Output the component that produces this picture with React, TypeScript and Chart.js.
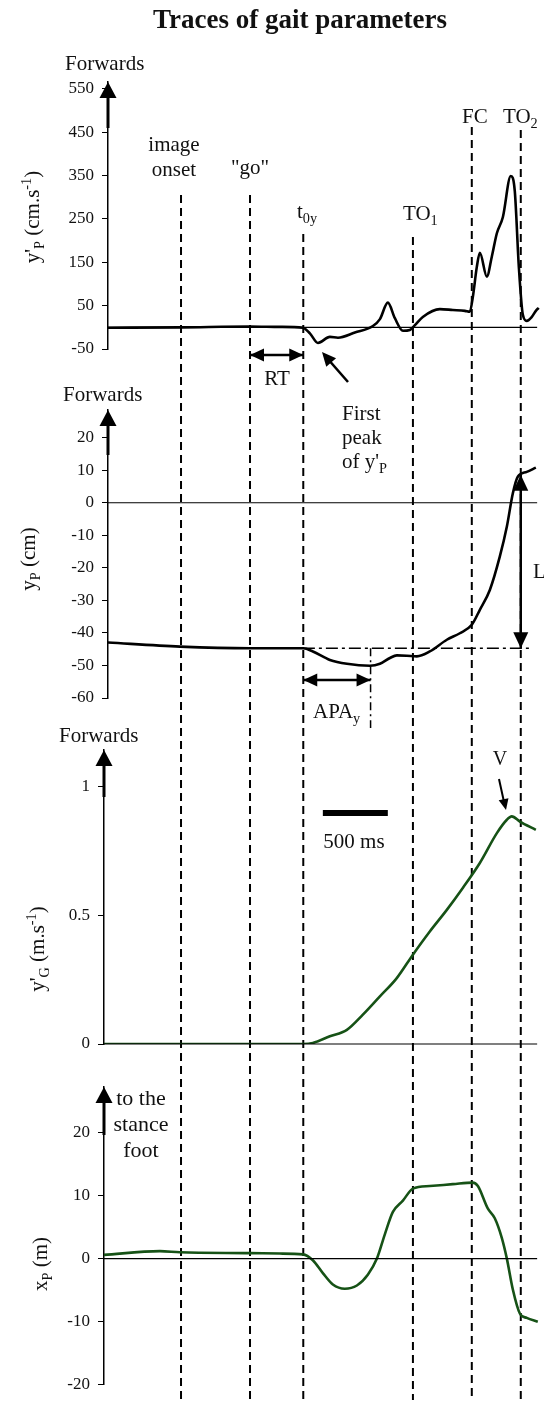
import React, { useEffect, useRef } from 'react';
import { Chart, registerables } from 'chart.js';
Chart.register(...registerables);

const W = 544;
const H = 1403;
const AXIS_W = 40;
const SERIF = '"Liberation Serif", "Times New Roman", serif';
const INK = '#111';

// ---- time axis (ms) ----
const timeMax = 3340;
const eventTimes = [577, 1108, 1518, 2362, 2815, 3192]; // image onset, "go", t0y, TO1, FC, TO2
const eventTops = [195, 195, 234, 237, 127, 130];
const apaEndTime = 2036;
const scaleBarStart = 1669;
const scaleBarMs = 500;
const zeroLineEnd = 3318;

// ---- panel 1 : y'P (cm.s-1) ----
const velPTimes = [0, 577, 1108, 1338, 1515, 1569, 1631, 1723, 1785, 1915, 2054, 2108, 2169, 2223, 2285, 2338, 2377, 2438, 2569, 2669, 2762, 2800, 2823, 2854, 2877, 2931, 2969, 3008, 3054, 3115, 3146, 3177, 3208, 3238, 3277, 3308, 3330];
const velPValues = [-1, 0, 2, 1, -1, -14, -36, -22, -24, -12, 3, 19, 57, 21, -8, -6, 5, 24, 42, 40, 38, 36, 70, 140, 172, 117, 163, 217, 254, 349, 314, 140, 29, 15, 24, 38, 45];
const velPTicks = [550, 450, 350, 250, 150, 50, -50];

// ---- panel 2 : yP (cm) ----
const posPTimes = [0, 569, 1108, 1338, 1518, 1592, 1723, 1854, 2031, 2108, 2185, 2238, 2315, 2392, 2492, 2623, 2723, 2815, 2877, 2954, 3031, 3085, 3131, 3169, 3238, 3308];
const posPValues = [-42.9, -44.2, -44.7, -44.7, -44.7, -45.7, -48.3, -49.5, -50.1, -49.5, -47.7, -46.9, -47, -47.2, -45.7, -42.1, -40.1, -37.5, -32.9, -26.8, -16.5, -7.3, 2.9, 8, 9.5, 10.8];
const posPTicks = [20, 10, 0, -10, -20, -30, -40, -50, -60];
const refTimes = [1338, 3262];
const refValue = -44.7;
const lTop = 8.6;

// ---- panel 3 : y'G (m.s-1) ----
const velGTimes = [-15, 577, 1518, 1592, 1723, 1854, 1977, 2108, 2238, 2362, 2492, 2623, 2746, 2877, 3008, 3085, 3123, 3185, 3308];
const velGValues = [0, 0, 0, 0.004, 0.03, 0.055, 0.114, 0.185, 0.256, 0.347, 0.437, 0.521, 0.606, 0.703, 0.819, 0.871, 0.884, 0.864, 0.832];
const velGTicks = [1, 0.5, 0];

// ---- panel 4 : xP (m) ----
const latPTimes = [-15, 415, 569, 1108, 1338, 1515, 1592, 1669, 1746, 1838, 1931, 2015, 2085, 2146, 2208, 2285, 2362, 2492, 2669, 2823, 2862, 2938, 2992, 3046, 3085, 3131, 3185, 3238, 3323];
const latPValues = [0.6, 1.18, 1.0, 0.87, 0.8, 0.67, -0.26, -2.3, -4.1, -4.77, -4.26, -2.56, 0, 3.85, 7.4, 9.2, 11.1, 11.5, 11.8, 12.05, 11.5, 7.95, 6.4, 3.3, 0, -4.9, -8.7, -9.4, -10];
const latPTicks = [20, 10, 0, -10, -20];

type Run = { t: string; s?: number; dy?: number };

function richText(ctx: CanvasRenderingContext2D, runs: Run[], x: number, y: number, size: number, align: 'left' | 'center', rotate = false, weight = 'normal') {
  ctx.save();
  ctx.translate(x, y);
  if (rotate) ctx.rotate(-Math.PI / 2);
  ctx.fillStyle = INK;
  ctx.textAlign = 'left';
  ctx.textBaseline = 'alphabetic';
  const widths = runs.map((r) => {
    ctx.font = `${weight} ${size * (r.s ?? 1)}px ${SERIF}`;
    return ctx.measureText(r.t).width;
  });
  const total = widths.reduce((a, b) => a + b, 0);
  let cx = align === 'center' ? -total / 2 : 0;
  runs.forEach((r, i) => {
    ctx.font = `${weight} ${size * (r.s ?? 1)}px ${SERIF}`;
    ctx.fillText(r.t, cx, (r.dy ?? 0) * size);
    cx += widths[i];
  });
  ctx.restore();
}

function seg(ctx: CanvasRenderingContext2D, x1: number, y1: number, x2: number, y2: number, w: number, dash: number[] = [], color = '#000') {
  ctx.save();
  ctx.strokeStyle = color;
  ctx.lineWidth = w;
  ctx.setLineDash(dash);
  ctx.beginPath();
  ctx.moveTo(x1, y1);
  ctx.lineTo(x2, y2);
  ctx.stroke();
  ctx.restore();
}

function head(ctx: CanvasRenderingContext2D, tx: number, ty: number, fx: number, fy: number, len: number, half: number) {
  const a = Math.atan2(ty - fy, tx - fx);
  const bx = tx - len * Math.cos(a);
  const by = ty - len * Math.sin(a);
  ctx.save();
  ctx.fillStyle = '#000';
  ctx.beginPath();
  ctx.moveTo(tx, ty);
  ctx.lineTo(bx + half * Math.sin(a), by - half * Math.cos(a));
  ctx.lineTo(bx - half * Math.sin(a), by + half * Math.cos(a));
  ctx.closePath();
  ctx.fill();
  ctx.restore();
}

function dblArrow(ctx: CanvasRenderingContext2D, x1: number, y1: number, x2: number, y2: number, len: number, half: number) {
  seg(ctx, x1, y1, x2, y2, 2.5);
  head(ctx, x1, y1, x2, y2, len, half);
  head(ctx, x2, y2, x1, y1, len, half);
}

function axisArrow(c: Chart, shaftEnd: number) {
  const ctx = c.ctx;
  const x = c.chartArea.left;
  const top = c.chartArea.top;
  seg(ctx, x, top + 8, x, shaftEnd, 3);
  head(ctx, x, top, x, top + 20, 16, 8.5);
}

function zeroLine(c: Chart) {
  const xs = c.scales.x;
  const ys = c.scales.y;
  const y = ys.getPixelForValue(0);
  seg(c.ctx, c.chartArea.left, y, xs.getPixelForValue(zeroLineEnd), y, 1.2);
}

function plain(ctx: CanvasRenderingContext2D, t: string, x: number, y: number, size: number, align: 'left' | 'center') {
  richText(ctx, [{ t }], x, y, size, align);
}

type PanelCfg = {
  times: number[];
  values: number[];
  color: string;
  ticks: number[];
  yMin: number;
  yMax: number;
  xMin: number;
  top: number;
  bottom: number;
  left: number;
  shaftEnd: number;
  extra?: any[];
  draw: (c: Chart) => void;
};

const SUB = 0.68;

const panels: PanelCfg[] = [
  {
    times: velPTimes, values: velPValues, color: '#000', ticks: velPTicks,
    yMin: -50, yMax: 566, xMin: 15, top: 82, bottom: 349, left: 108, shaftEnd: 128,
    draw: (c) => {
      const ctx = c.ctx;
      const X = (t: number) => c.scales.x.getPixelForValue(t);
      // event dashed lines across whole figure
      eventTimes.forEach((t, i) => seg(ctx, X(t), eventTops[i], X(t), 1400, 2, [8, 5]));
      zeroLine(c);
      axisArrow(c, 128);
      richText(ctx, [{ t: 'Traces of gait parameters' }], 300, 28, 27, 'center', false, 'bold');
      plain(ctx, 'Forwards', 65, 70, 21, 'left');
      plain(ctx, 'image', 174, 151, 21, 'center');
      plain(ctx, 'onset', 174, 176, 21, 'center');
      plain(ctx, '"go"', 250, 174, 21, 'center');
      richText(ctx, [{ t: 't' }, { t: '0y', s: SUB, dy: 0.25 }], 297, 218, 21, 'left');
      richText(ctx, [{ t: 'TO' }, { t: '1', s: SUB, dy: 0.25 }], 403, 220, 21, 'left');
      plain(ctx, 'FC', 462, 123, 21, 'left');
      richText(ctx, [{ t: 'TO' }, { t: '2', s: SUB, dy: 0.25 }], 503, 123, 21, 'left');
      // RT
      dblArrow(ctx, X(eventTimes[1]), 355, X(eventTimes[2]), 355, 14, 6.5);
      plain(ctx, 'RT', 277, 385, 21, 'center');
      // first peak
      seg(ctx, 348, 382, 327, 358, 2.5);
      head(ctx, 322, 352, 348, 382, 14, 6.5);
      plain(ctx, 'First', 342, 420, 21, 'left');
      plain(ctx, 'peak', 342, 444, 21, 'left');
      richText(ctx, [{ t: "of y'" }, { t: 'P', s: SUB, dy: 0.25 }], 342, 468, 21, 'left');
      richText(ctx, [{ t: "y'" }, { t: 'P', s: SUB, dy: 0.25 }, { t: ' (cm.s' }, { t: '-1', s: SUB, dy: -0.4 }, { t: ')' }], 39, 217, 21, 'center', true);
    },
  },
  {
    times: posPTimes, values: posPValues, color: '#000', ticks: posPTicks,
    yMin: -60, yMax: 28.5, xMin: 15, top: 410, bottom: 698, left: 108, shaftEnd: 455,
    extra: [{
      data: refTimes.map((t) => ({ x: t, y: refValue })),
      borderColor: '#000', borderWidth: 1.5, borderDash: [12, 4, 3, 4], pointRadius: 0,
    }],
    draw: (c) => {
      const ctx = c.ctx;
      const X = (t: number) => c.scales.x.getPixelForValue(t);
      const Y = (v: number) => c.scales.y.getPixelForValue(v);
      zeroLine(c);
      axisArrow(c, 455);
      plain(ctx, 'Forwards', 63, 401, 21, 'left');
      seg(ctx, X(apaEndTime), Y(refValue), X(apaEndTime), 728, 1.5, [8, 4, 2, 4]);
      dblArrow(ctx, X(eventTimes[2]), 680, X(apaEndTime), 680, 14, 6.5);
      richText(ctx, [{ t: 'APA' }, { t: 'y', s: SUB, dy: 0.25 }], 313, 718, 21, 'left');
      dblArrow(ctx, X(eventTimes[5]), Y(lTop), X(eventTimes[5]), Y(refValue), 16, 7.5);
      plain(ctx, 'L', 533, 578, 21, 'left');
      richText(ctx, [{ t: 'y' }, { t: 'P', s: SUB, dy: 0.25 }, { t: ' (cm)' }], 35, 559, 21, 'center', true);
    },
  },
  {
    times: velGTimes, values: velGValues, color: '#165216', ticks: velGTicks,
    yMin: 0, yMax: 1.142, xMin: -15, top: 750, bottom: 1044, left: 104, shaftEnd: 797,
    draw: (c) => {
      const ctx = c.ctx;
      const X = (t: number) => c.scales.x.getPixelForValue(t);
      zeroLine(c);
      axisArrow(c, 797);
      plain(ctx, 'Forwards', 59, 742, 21, 'left');
      seg(ctx, X(scaleBarStart), 813, X(scaleBarStart + scaleBarMs), 813, 6);
      plain(ctx, '500 ms', 354, 848, 21, 'center');
      plain(ctx, 'V', 500, 765, 20, 'center');
      seg(ctx, 499, 779, 504, 802, 2);
      head(ctx, 506, 810, 499, 779, 11, 5);
      richText(ctx, [{ t: "y'" }, { t: 'G', s: SUB, dy: 0.25 }, { t: ' (m.s' }, { t: '-1', s: SUB, dy: -0.4 }, { t: ')' }], 44, 949, 21, 'center', true);
    },
  },
  {
    times: latPTimes, values: latPValues, color: '#165216', ticks: latPTicks,
    yMin: -20, yMax: 27.2, xMin: -15, top: 1087, bottom: 1395, left: 104, shaftEnd: 1135,
    draw: (c) => {
      const ctx = c.ctx;
      zeroLine(c);
      axisArrow(c, 1135);
      plain(ctx, 'to the', 141, 1105, 22, 'center');
      plain(ctx, 'stance', 141, 1131, 22, 'center');
      plain(ctx, 'foot', 141, 1157, 22, 'center');
      richText(ctx, [{ t: 'x' }, { t: 'P', s: SUB, dy: 0.25 }, { t: ' (m)' }], 47, 1264, 21, 'center', true);
    },
  },
];

function makeChart(canvas: HTMLCanvasElement, p: PanelCfg): Chart {
  const datasets: any[] = [
    {
      data: p.times.map((t, i) => ({ x: t, y: p.values[i] })),
      borderColor: p.color,
      borderWidth: 2.6,
      pointRadius: 0,
      cubicInterpolationMode: 'monotone',
      fill: false,
    },
    ...(p.extra ?? []),
  ];
  return new Chart(canvas, {
    type: 'line',
    data: { datasets },
    options: {
      animation: false,
      responsive: false,
      devicePixelRatio: 1,
      events: [],
      layout: { padding: { top: p.top, bottom: H - p.bottom, left: p.left - AXIS_W, right: W - 540 } },
      plugins: { legend: { display: false }, tooltip: { enabled: false }, title: { display: false } },
      scales: {
        x: { type: 'linear', min: p.xMin, max: timeMax, display: false },
        y: {
          type: 'linear',
          position: 'left',
          min: p.yMin,
          max: p.yMax,
          afterFit: (s: any) => { s.width = AXIS_W; },
          afterBuildTicks: (s: any) => { s.ticks = p.ticks.map((v) => ({ value: v })); },
          ticks: {
            autoSkip: false,
            padding: 8,
            color: INK,
            font: { family: SERIF, size: 17 },
            callback: (v: any) => String(v),
          },
          grid: { drawOnChartArea: false, drawTicks: true, tickLength: 6, color: '#000', lineWidth: 1 },
          border: { display: true, color: '#000', width: 1.5 },
        },
      },
    },
    plugins: [{ id: 'annot', afterDraw: (c: Chart) => p.draw(c) }],
  } as any);
}

export default function App() {
  const refs = [useRef<HTMLCanvasElement>(null), useRef<HTMLCanvasElement>(null), useRef<HTMLCanvasElement>(null), useRef<HTMLCanvasElement>(null)];
  useEffect(() => {
    const charts = panels.map((p, i) => makeChart(refs[i].current as HTMLCanvasElement, p));
    return () => charts.forEach((c) => c.destroy());
  }, []);
  return (
    <div style={{ position: 'absolute', left: 0, top: 0, width: W, height: H, background: '#fff' }}>
      {refs.map((r, i) => (
        <canvas key={i} ref={r} width={W} height={H} style={{ position: 'absolute', left: 0, top: 0, width: W, height: H }} />
      ))}
    </div>
  );
}
